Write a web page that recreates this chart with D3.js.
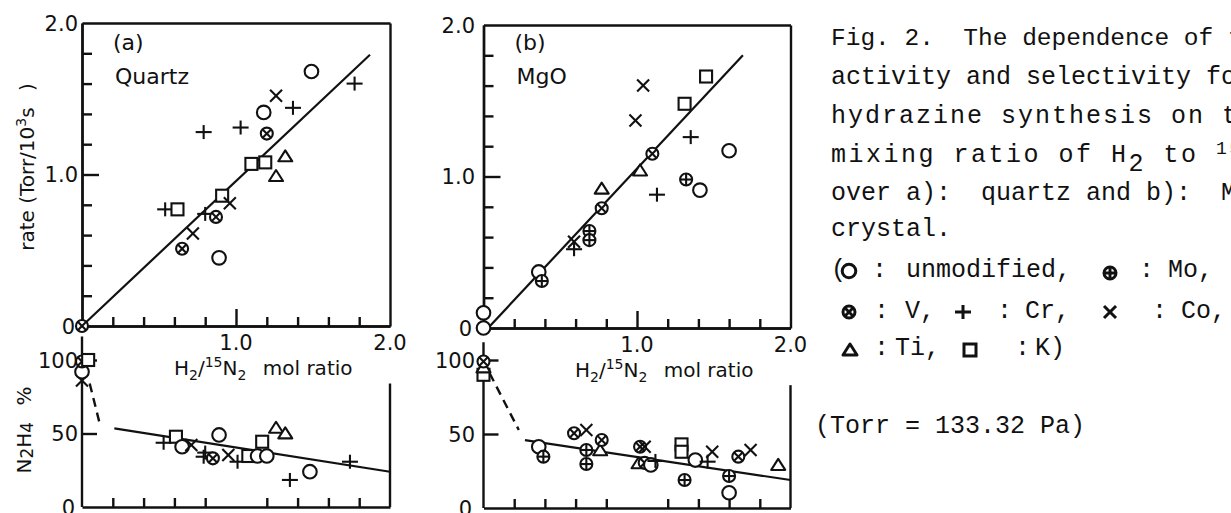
<!DOCTYPE html>
<html lang="en">
<head>
<meta charset="UTF-8">
<title>Fig. 2 hydrazine synthesis</title>
<script src="https://d3js.org/d3.v7.min.js"></script>
<style>
  body { margin: 0; background: white; overflow: hidden; }
  svg text { fill: #111; }
  .lt { font-family: "DejaVu Sans", sans-serif; }
  .cap { font-family: "Liberation Mono", monospace; font-size: 25px; }
</style>
</head>
<body>
<svg id="fig" width="1231" height="513"></svg>
<script>
// ratio = H2/15N2 mol ratio, rate in Torr/10^3 s, yield in N2H4 %
const ratioTicks = [0.2, 0.4, 0.6, 0.8, 1.2, 1.4, 1.6, 1.8];
const rateTicks = [0.2, 0.4, 0.6, 0.8, 1.2, 1.4, 1.6, 1.8];
const rateLabels = [[0, "0"], [1, "1.0"], [2, "2.0"]];
const yieldLabels = [[0, "0"], [50, "50"], [100, "100"]];
const ratioLabels = [[1, "1.0"], [2, "2.0"]];

// [metal, ratio, value]
const quartzRate = [
  ["V", 0, 0], ["V", 0.65, 0.51], ["Co", 0.72, 0.61], ["Cr", 0.54, 0.77], ["K", 0.62, 0.77],
  ["Cr", 0.80, 0.74], ["V", 0.87, 0.72], ["unmod", 0.89, 0.45], ["K", 0.91, 0.86], ["Co", 0.96, 0.81],
  ["K", 1.10, 1.07], ["K", 1.19, 1.08], ["Ti", 1.32, 1.12], ["Ti", 1.26, 0.99], ["Cr", 0.79, 1.28],
  ["Cr", 1.03, 1.31], ["V", 1.20, 1.27], ["unmod", 1.18, 1.41], ["Co", 1.26, 1.52], ["Cr", 1.37, 1.44],
  ["unmod", 1.49, 1.68], ["Cr", 1.77, 1.60]
];
const quartzYield = [
  ["Co", 0, 86], ["unmod", 0, 92], ["V", 0, 99], ["K", 0.04, 100],
  ["Cr", 0.53, 43.7], ["K", 0.61, 47.8], ["unmod", 0.65, 41.0], ["Co", 0.71, 42.2],
  ["Cr", 0.79, 34.2], ["Cr", 0.80, 37.0], ["V", 0.85, 33.1], ["unmod", 0.89, 49.0],
  ["Co", 0.95, 35.4], ["Cr", 1.01, 30.8], ["K", 1.08, 34.7], ["unmod", 1.14, 34.7],
  ["unmod", 1.20, 34.7], ["K", 1.17, 44.4], ["Ti", 1.26, 53.9], ["Ti", 1.32, 50.1],
  ["Cr", 1.74, 30.8], ["Cr", 1.35, 18.4], ["unmod", 1.48, 24.0]
];
const mgoRate = [
  ["unmod", 0, 0], ["unmod", 0, 0.10], ["unmod", 0.36, 0.37], ["Mo", 0.38, 0.31],
  ["Co", 0.59, 0.57], ["Cr", 0.59, 0.52], ["Mo", 0.69, 0.64], ["Mo", 0.69, 0.58],
  ["Ti", 0.77, 0.92], ["V", 0.77, 0.79], ["Ti", 1.02, 1.04], ["V", 1.10, 1.15],
  ["Co", 0.99, 1.37], ["Co", 1.04, 1.60], ["Cr", 1.13, 0.88], ["Mo", 1.32, 0.98],
  ["unmod", 1.41, 0.91], ["Cr", 1.35, 1.26], ["K", 1.31, 1.48], ["K", 1.45, 1.66],
  ["unmod", 1.60, 1.17]
];
const mgoYield = [
  ["K", 0, 90], ["Ti", 0, 95], ["V", 0, 99],
  ["unmod", 0.36, 41.4], ["Mo", 0.39, 34.7], ["V", 0.59, 50.5], ["Co", 0.67, 52.7],
  ["Mo", 0.67, 39.2], ["Mo", 0.67, 29.7], ["Ti", 0.76, 39], ["V", 0.77, 45.9],
  ["V", 1.02, 41.4], ["Co", 1.05, 41.4], ["Ti", 1.01, 30.2], ["V", 1.05, 30.5],
  ["unmod", 1.09, 29.1], ["Cr", 1.12, 31.8], ["K", 1.29, 43], ["K", 1.29, 38],
  ["Mo", 1.31, 18.9], ["unmod", 1.38, 32.4], ["Cr", 1.46, 31.3], ["Co", 1.49, 38.0],
  ["V", 1.66, 34.7], ["Co", 1.74, 39.2], ["Mo", 1.60, 21.6], ["unmod", 1.60, 10.3],
  ["Ti", 1.92, 29.1]
];

// fitted lines
const quartzRateFit = [[0, 0], [1.87, 1.79]];
const quartzYieldDash = [[0.05, 84], [0.12, 54.6]];
const quartzYieldFit = [[0.21, 53.5], [2.0, 24]];
const mgoRateFit = [[0.03, 0], [1.69, 1.80]];
const mgoYieldDash = [[0.04, 91], [0.23, 52.7]];
const mgoYieldFit = [[0.27, 45.9], [2.0, 18.9]];

const svg = d3.select("#fig");
const ink = "#111";

function marker(g, kind, cx, cy, sw = 2.1) {
  const s = g.append("g")
    .attr("transform", `translate(${cx},${cy})`)
    .attr("fill", "white").attr("stroke", ink).attr("stroke-width", sw);
  const line = (x1, y1, x2, y2) => s.append("line")
    .attr("x1", x1).attr("y1", y1).attr("x2", x2).attr("y2", y2);
  if (kind === "unmod") {
    s.append("circle").attr("r", 6.8);
  } else if (kind === "Mo") {
    s.append("circle").attr("r", 6);
    line(-6, 0, 6, 0); line(0, -6, 0, 6);
  } else if (kind === "V") {
    s.append("circle").attr("r", 6);
    line(-4.2, -4.2, 4.2, 4.2); line(-4.2, 4.2, 4.2, -4.2);
  } else if (kind === "Cr") {
    line(-8, 0, 8, 0); line(0, -7, 0, 7);
  } else if (kind === "Co") {
    line(-6, -6, 6, 6); line(-6, 6, 6, -6);
  } else if (kind === "Ti") {
    s.append("path").attr("d", "M-7,5L0,-6L7,5Z").attr("stroke-linejoin", "round");
  } else if (kind === "K") {
    s.append("rect").attr("x", -6).attr("y", -6).attr("width", 12).attr("height", 12);
  }
}

function drawPanel(p) {
  const g = svg.append("g");
  const x = d3.scaleLinear().domain([0, 2]).range([p.x0, p.x1]);
  const yr = d3.scaleLinear().domain([0, 2]).range(p.rateY);
  const yy = d3.scaleLinear().domain([0, 100]).range(p.yieldY);

  const axisStyle = sel => sel.call(a => a.selectAll("path,line")
      .attr("stroke", ink).attr("stroke-width", 2.4))
    .call(a => a.selectAll("text").remove());

  // upper panel frame and ticks
  g.append("g").attr("transform", `translate(${p.x0},0)`)
    .call(d3.axisLeft(yr).tickValues(rateTicks).tickSize(-10).tickSizeOuter(0)).call(axisStyle);
  g.append("g").attr("transform", `translate(${p.x0},0)`)
    .call(d3.axisLeft(yr).tickValues([1]).tickSize(-17).tickSizeOuter(0)).call(axisStyle);
  g.append("g").attr("transform", `translate(0,${yr(0)})`)
    .call(d3.axisBottom(x).tickValues(ratioTicks).tickSize(-9).tickSizeOuter(0)).call(axisStyle);
  g.append("g").attr("transform", `translate(0,${yr(0)})`)
    .call(d3.axisBottom(x).tickValues([1]).tickSize(-17).tickSizeOuter(0)).call(axisStyle);
  g.append("g").attr("transform", `translate(0,${yr(2)})`)
    .call(d3.axisTop(x).tickValues([]).tickSizeOuter(0)).call(axisStyle);
  g.append("g").attr("transform", `translate(${p.x1},0)`)
    .call(d3.axisRight(yr).tickValues([]).tickSizeOuter(0)).call(axisStyle);

  // lower panel: open top, left axis runs higher than right
  g.append("g").attr("transform", `translate(${p.x0},0)`)
    .call(d3.axisLeft(yy).tickValues([50, 100]).tickSize(-15).tickSizeOuter(0)).call(axisStyle)
    .call(a => a.select(".domain").remove());
  g.append("line").attr("x1", p.x0).attr("x2", p.x0).attr("y1", yy(0)).attr("y2", yy(p.leftTop))
    .attr("stroke", ink).attr("stroke-width", 2.4);
  g.append("line").attr("x1", p.x1).attr("x2", p.x1).attr("y1", yy(0)).attr("y2", yy(p.rightTop))
    .attr("stroke", ink).attr("stroke-width", 2.4);
  g.append("g").attr("transform", `translate(0,${yy(0)})`)
    .call(d3.axisBottom(x).tickValues(ratioTicks).tickSize(-9).tickSizeOuter(0)).call(axisStyle);

  // tick labels
  const lab = g.append("g").attr("class", "lt").attr("font-size", 21);
  rateLabels.forEach(([v, t]) => lab.append("text").attr("x", p.labR - (v === 0 ? 3 : 0))
    .attr("y", yr(v)).attr("dy", "0.36em").attr("text-anchor", "end").text(t));
  yieldLabels.forEach(([v, t]) => lab.append("text").attr("x", p.labR - (v === 0 ? 3 : 0))
    .attr("y", yy(v)).attr("dy", "0.36em").attr("text-anchor", "end").text(t));
  ratioLabels.forEach(([v, t]) => lab.append("text").attr("x", x(v))
    .attr("y", yr(0) + 24).attr("text-anchor", "middle").text(t));

  // x-axis title
  const xt = g.append("text").attr("class", "lt").attr("font-size", 20)
    .attr("x", (x(0.5) + x(1.75)) / 2 + 8).attr("y", yr(0) + 49).attr("text-anchor", "middle");
  xt.append("tspan").text("H");
  xt.append("tspan").attr("font-size", 14).attr("dy", 5).text("2");
  xt.append("tspan").attr("dy", -5).text("/");
  xt.append("tspan").attr("font-size", 14).attr("dy", -8).text("15");
  xt.append("tspan").attr("dy", 8).text("N");
  xt.append("tspan").attr("font-size", 14).attr("dy", 5).text("2");
  xt.append("tspan").attr("dy", -5).text("\u2002 mol ratio");

  // panel label
  g.append("text").attr("class", "lt").attr("font-size", 22)
    .attr("x", p.x0 + 31).attr("y", 50).text(p.tag);
  g.append("text").attr("class", "lt").attr("font-size", 22)
    .attr("x", p.x0 + 33).attr("y", 84).text(p.name);

  // fitted lines
  const lr = d3.line().x(d => x(d[0])).y(d => yr(d[1]));
  const ly = d3.line().x(d => x(d[0])).y(d => yy(d[1]));
  g.append("path").attr("d", lr(p.rateFit)).attr("fill", "none").attr("stroke", ink).attr("stroke-width", 2.2);
  g.append("path").attr("d", ly(p.yieldFit)).attr("fill", "none").attr("stroke", ink).attr("stroke-width", 2.2);
  g.append("path").attr("d", ly(p.yieldDash)).attr("fill", "none").attr("stroke", ink)
    .attr("stroke-width", 2.4).attr("stroke-dasharray", "9,6");

  // points
  p.rate.forEach(d => marker(g, d[0], x(d[1]), yr(d[2])));
  p.yield.forEach(d => marker(g, d[0], x(d[1]), yy(d[2])));
}

drawPanel({
  tag: "(a)", name: "Quartz", x0: 82, x1: 390, rateY: [326, 23], yieldY: [507, 360],
  leftTop: 116, rightTop: 84, labR: 78,
  rate: quartzRate, yield: quartzYield,
  rateFit: quartzRateFit, yieldFit: quartzYieldFit, yieldDash: quartzYieldDash
});
drawPanel({
  tag: "(b)", name: "MgO", x0: 483.5, x1: 790.5, rateY: [328, 25], yieldY: [508, 360],
  leftTop: 112, rightTop: 83, labR: 475,
  rate: mgoRate, yield: mgoYield,
  rateFit: mgoRateFit, yieldFit: mgoYieldFit, yieldDash: mgoYieldDash
});

// y-axis titles
const yt = svg.append("text").attr("class", "lt").attr("font-size", 20)
  .attr("transform", "translate(34,167) rotate(-90)").attr("text-anchor", "middle");
yt.append("tspan").text("rate (Torr/10");
yt.append("tspan").attr("font-size", 14).attr("dy", -8).text("3");
yt.append("tspan").attr("dy", 8).text("s\u2002 )");

const nt = svg.append("text").attr("class", "lt").attr("font-size", 20)
  .attr("transform", "translate(31,430) rotate(-90)").attr("text-anchor", "middle");
nt.append("tspan").text("N");
nt.append("tspan").attr("font-size", 17).attr("dy", 2).text("2");
nt.append("tspan").attr("dy", -2).text("H");
nt.append("tspan").attr("font-size", 17).attr("dy", 2).text("4");
nt.append("tspan").attr("dy", -2).text("\u2002 %");

// caption
const cap = svg.append("g").attr("class", "cap");
const capLines = [
  [45, "Fig. 2.  The dependence of the", 0, 24.5],
  [84, "activity and selectivity for", 0, 25],
  [123, "hydrazine synthesis on the", 2.0, 25],
  [200, "over a):  quartz and b):  MgO", 0, 25],
  [236, "crystal.", 0, 25]
];
capLines.forEach(([y, t, ls, fs]) => cap.append("text").attr("x", 831).attr("y", y)
  .attr("font-size", fs).attr("letter-spacing", ls).attr("xml:space", "preserve").text(t));
const l4 = cap.append("text").attr("x", 831).attr("y", 162).attr("letter-spacing", 2.5)
  .attr("xml:space", "preserve");
l4.append("tspan").text("mixing ratio of H");
l4.append("tspan").attr("dy", 9).text("2");
l4.append("tspan").attr("dy", -9).text(" to ");
l4.append("tspan").attr("dy", -8).attr("font-size", 18).text("15");
l4.append("tspan").attr("dy", 8).text("N");
l4.append("tspan").attr("dy", 9).text("2");

const capBits = [
  [277, 831, "("], [277, 872, ":"], [277, 906, "unmodified,"], [277, 1139, ":"], [277, 1168, "Mo,"],
  [318, 874, ":"], [318, 905, "V,"], [318, 997, ":"], [318, 1025, "Cr,"], [318, 1152, ":"], [318, 1181, "Co,"],
  [355, 874, ":"], [355, 895, "Ti,"], [355, 1015, ":"], [355, 1035, "K)"],
  [433, 815, "(Torr = 133.32 Pa)"]
];
capBits.forEach(([y, x, t]) => cap.append("text").attr("x", x).attr("y", y)
  .attr("xml:space", "preserve").text(t));

const legendMarks = [
  ["unmod", 849, 271], ["Mo", 1110, 273], ["V", 849, 312], ["Cr", 963, 312],
  ["Co", 1110, 312], ["Ti", 850, 350], ["K", 970, 350]
];
legendMarks.forEach(([k, x, y]) => marker(svg, k, x, y, 3));
</script>
</body>
</html>
